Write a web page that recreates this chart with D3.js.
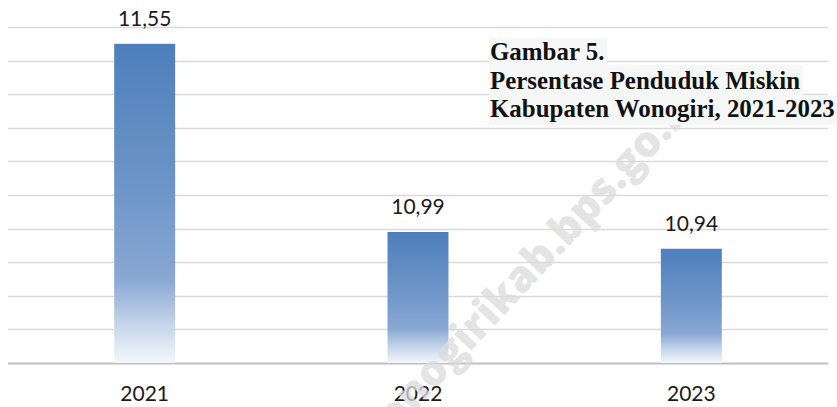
<!DOCTYPE html>
<html lang="id">
<head>
<meta charset="UTF-8">
<title>Persentase Penduduk Miskin Kabupaten Wonogiri</title>
<script src="https://d3js.org/d3.v7.min.js"></script>
<style>
    body { margin: 0; background: #ffffff; }
    svg { display: block; }
    .value-label, .year-label { font-family: Lato, "Open Sans", sans-serif; font-size: 21px; fill: #1a1a1a; }
    .title-line { font-family: "Liberation Serif", "DejaVu Serif", serif; font-weight: bold; fill: #111111; }
    .watermark { font-family: "Open Sans", sans-serif; font-weight: 800; }
</style>
</head>
<body>
<svg id="chart"></svg>
<script>
    // data
    const years = ["2021", "2022", "2023"];
    const values = [11.55, 10.99, 10.94];
    const valueLabels = ["11,55", "10,99", "10,94"];
    const titleLines = ["Gambar 5.", "Persentase Penduduk Miskin", "Kabupaten Wonogiri, 2021-2023"];
    const watermarkText = "wonogirikab.bps.go.id";

    const W = 837, H = 407;
    const svg = d3.select("#chart").attr("width", W).attr("height", H);

    const x = d3.scaleBand()
        .domain(years)
        .range([8, 828])
        .paddingInner(0.777)
        .paddingOuter(0.3885);

    const y = d3.scaleLinear()
        .domain([10.6, 11.6])
        .range([363, 27]);

    // gradient fill for bars
    const defs = svg.append("defs");
    const grad = defs.append("linearGradient")
        .attr("id", "barGrad")
        .attr("x1", 0).attr("y1", 0).attr("x2", 0).attr("y2", 1);
    grad.append("stop").attr("offset", "0%").attr("stop-color", "#4e7fbc");
    grad.append("stop").attr("offset", "45%").attr("stop-color", "#6d95c8");
    grad.append("stop").attr("offset", "74%").attr("stop-color", "#8aa8d3");
    grad.append("stop").attr("offset", "88%").attr("stop-color", "#c6d5ea");
    grad.append("stop").attr("offset", "100%").attr("stop-color", "#f4f7fb");

    // gridlines
    const ticks = y.ticks(10);
    svg.append("g")
        .selectAll("line")
        .data(ticks)
        .enter().append("line")
        .attr("x1", 8)
        .attr("x2", 828)
        .attr("y1", d => Math.round(y(d)) + 0.5)
        .attr("y2", d => Math.round(y(d)) + 0.5)
        .attr("stroke", (d, i) => i === 0 ? "#bfbfbf" : "#d9d9d9")
        .attr("stroke-width", (d, i) => i === 0 ? 2 : 1.5);

    // bars
    svg.append("g")
        .selectAll("rect")
        .data(values)
        .enter().append("rect")
        .attr("x", (d, i) => x(years[i]))
        .attr("y", d => y(d))
        .attr("width", x.bandwidth())
        .attr("height", d => y(10.6) - y(d))
        .attr("fill", "url(#barGrad)");

    // value labels
    svg.append("g")
        .selectAll("text")
        .data(values)
        .enter().append("text")
        .attr("class", "value-label")
        .attr("x", (d, i) => x(years[i]) + x.bandwidth() / 2)
        .attr("y", d => y(d) - 18)
        .attr("text-anchor", "middle")
        .text((d, i) => valueLabels[i]);

    // year labels
    svg.append("g")
        .selectAll("text")
        .data(years)
        .enter().append("text")
        .attr("class", "year-label")
        .attr("x", d => x(d) + x.bandwidth() / 2)
        .attr("y", 401)
        .attr("text-anchor", "middle")
        .text(d => d);

    // watermark (runs off the bottom and under the title, as in the source)
    svg.append("text")
        .attr("class", "watermark")
        .attr("transform", "translate(523,271) rotate(-47)")
        .attr("text-anchor", "middle")
        .attr("dominant-baseline", "central")
        .attr("font-size", 43)
        .attr("fill", "#dcdcdc")
        .attr("opacity", 0.75)
        .text(watermarkText);

    // title, each line on its own light box
    const titleG = svg.append("g");
    const baselines = [60, 89, 117];
    const texts = titleG.selectAll("text")
        .data(titleLines)
        .enter().append("text")
        .attr("class", "title-line")
        .attr("x", 490)
        .attr("y", (d, i) => baselines[i])
        .attr("font-size", 21)
        .text(d => d);

    // fit the longest line to the width seen in the reference
    const longest = texts.nodes()[2].getComputedTextLength();
    const fs = 21 * 345 / longest;
    texts.attr("font-size", fs);

    const boxTops = [38, 65, 95];
    const boxBottoms = [65, 95, 125];
    texts.each(function(d, i) {
        const w = this.getComputedTextLength();
        titleG.insert("rect", "text")
            .attr("x", 489)
            .attr("y", boxTops[i])
            .attr("width", Math.min(W - 489, w + 4))
            .attr("height", boxBottoms[i] - boxTops[i])
            .attr("fill", "#f6f8f8");
    });
</script>
</body>
</html>
